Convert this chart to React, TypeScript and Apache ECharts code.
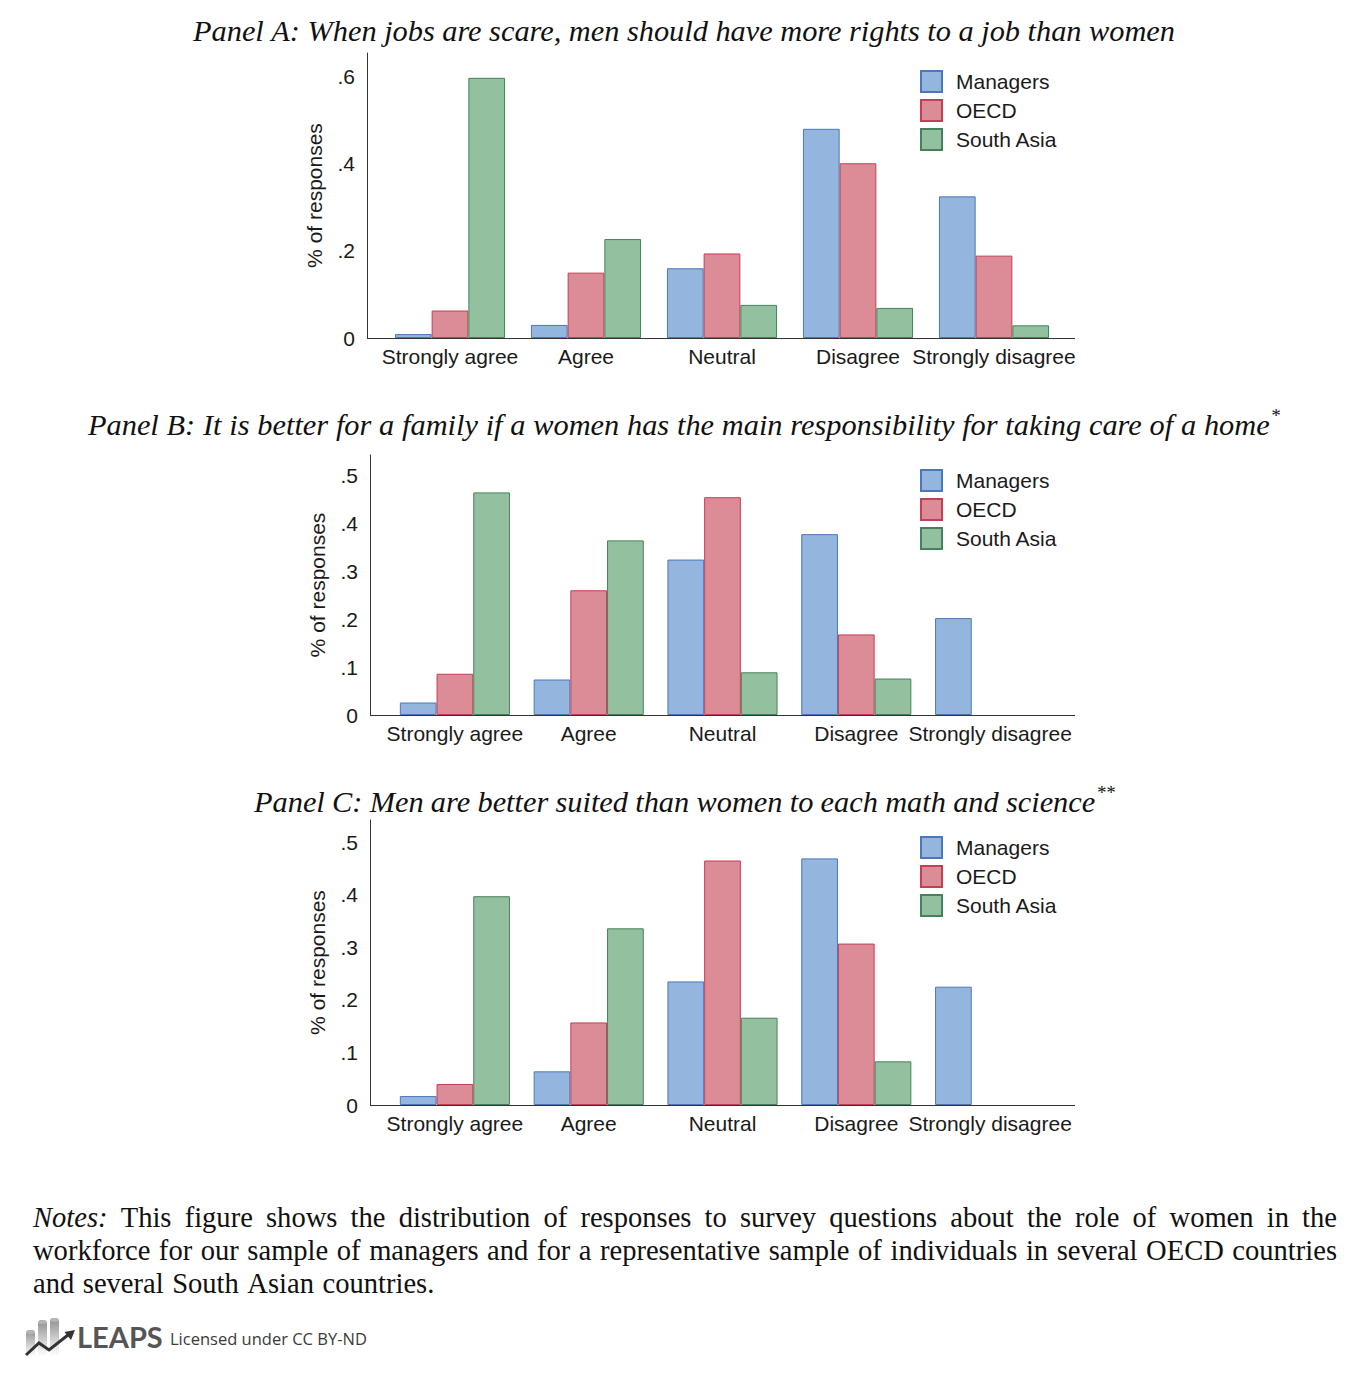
import React, { useEffect, useRef } from 'react';
import * as echarts from 'echarts';

// ---------- DATA ----------
const categories = ['Strongly agree', 'Agree', 'Neutral', 'Disagree', 'Strongly disagree'];
const seriesNames = ['Managers', 'OECD', 'South Asia'];

const panelAManagers = [0.009, 0.030, 0.160, 0.480, 0.325];
const panelAOECD = [0.063, 0.150, 0.194, 0.401, 0.189];
const panelASouthAsia = [0.597, 0.227, 0.076, 0.069, 0.029];

const panelBManagers = [0.026, 0.074, 0.324, 0.377, 0.202];
const panelBOECD = [0.086, 0.260, 0.454, 0.168, 0];
const panelBSouthAsia = [0.464, 0.364, 0.089, 0.076, 0];

const panelCManagers = [0.017, 0.064, 0.235, 0.469, 0.225];
const panelCOECD = [0.040, 0.157, 0.465, 0.307, 0];
const panelCSouthAsia = [0.397, 0.336, 0.166, 0.083, 0];

const yTickStepA = 0.2;
const yTickStepB = 0.1;
const yTickStepC = 0.1;

const yAxisTitle = '% of responses';
const titleA = 'Panel A: When jobs are scare, men should have more rights to a job than women';
const titleB = 'Panel B: It is better for a family if a women has the main responsibility for taking care of a home';
const titleBSup = '*';
const titleC = 'Panel C: Men are better suited than women to each math and science';
const titleCSup = '**';
const notesLines = [
  'This figure shows the distribution of responses to survey questions about the role of women in the',
  'workforce for our sample of managers and for a representative sample of individuals in several OECD countries',
  'and several South Asian countries.',
];
const notesLabel = 'Notes:';
const logoText = 'LEAPS';
const licenseText = 'Licensed under CC BY-ND';

// ---------- STYLE / LAYOUT ----------
const SANS = '"Liberation Sans", Arial, Helvetica, sans-serif';
const SERIF = 'Liberation Serif';
const TXT = '#1a1a1a';
const FS = 21;
const FILLS = ['#94b5dd', '#dc8c97', '#93c19f'];
const BORDERS = ['#4a78b8', '#c23f55', '#43825a'];

const panels = [
  { data: [panelAManagers, panelAOECD, panelASouthAsia], step: yTickStepA, left: 382, width: 680, top: 53, height: 285, max: 0.654, axisX: 367, legendTop: 65, title: titleA, sup: '', titleY: 31, tx0: 193, tx1: 1176 },
  { data: [panelBManagers, panelBOECD, panelBSouthAsia], step: yTickStepB, left: 388, width: 669, top: 455, height: 260, max: 0.542, axisX: 370, legendTop: 464, title: titleB, sup: titleBSup, titleY: 425, tx0: 88, tx1: 1280 },
  { data: [panelCManagers, panelCOECD, panelCSouthAsia], step: yTickStepC, left: 388, width: 669, top: 820, height: 285, max: 0.542, axisX: 370, legendTop: 831, title: titleC, sup: titleCSup, titleY: 802, tx0: 254, tx1: 1115 },
];

function tickFormatter(step: number) {
  return (v: number) => {
    const r = Math.round(v / step);
    if (Math.abs(v - r * step) > 1e-6) return '';
    if (r === 0) return '0';
    return (r * step).toFixed(1).replace(/^0\./, '.');
  };
}

export default function App() {
  const ref = useRef<HTMLDivElement>(null);

  useEffect(() => {
    document.body.style.margin = '0';
    if (!ref.current) return;
    const chart = echarts.init(ref.current, undefined, { renderer: 'svg' });

    const canvas = document.createElement('canvas');
    const ctx = canvas.getContext('2d')!;
    const measure = (t: string, size: number, italic: boolean) => {
      ctx.font = `${italic ? 'italic ' : ''}${size}px "${SERIF}"`;
      return ctx.measureText(t).width;
    };

    const graphics: any[] = [];
    const addText = (t: string, x: number, y: number, size: number, italic: boolean, extra: any = {}) => {
      graphics.push({
        type: 'text',
        x,
        y,
        z: 20,
        style: {
          text: t,
          fontSize: size,
          fontFamily: SERIF,
          fontStyle: italic ? 'italic' : 'normal',
          fill: '#111',
          textVerticalAlign: 'middle',
          textAlign: 'left',
          ...extra,
        },
      });
    };

    // Titles: common font size fitted to panel A width
    const natA = measure(titleA, 100, true);
    const titleSize = (100 * (panels[0].tx1 - panels[0].tx0)) / natA;
    panels.forEach((p) => {
      const words = p.title.split(' ');
      const supSize = titleSize * 0.62;
      const supW = p.sup ? measure(p.sup, supSize, true) : 0;
      const widths = words.map((w) => measure(w, titleSize, true));
      const sum = widths.reduce((a, b) => a + b, 0);
      const gap = (p.tx1 - p.tx0 - supW - 1 - sum) / (words.length - 1);
      let x = p.tx0;
      words.forEach((w, i) => {
        addText(w, x, p.titleY, titleSize, true);
        x += widths[i] + gap;
      });
      if (p.sup) {
        addText(p.sup, p.tx1 - supW, p.titleY - titleSize * 0.3, supSize, true);
      }
    });

    // Notes: font sized so the second line fits with comfortable spaces
    const l2words = notesLines[1].split(' ');
    const l2sum100 = l2words.reduce((a, w) => a + measure(w, 100, false), 0);
    const notesSize = 1304 / ((l2sum100 + 30 * (l2words.length - 1)) / 100);
    const notesY = [1217, 1250, 1283];
    notesLines.forEach((line, li) => {
      const words = line.split(' ').map((w) => ({ t: w, it: false }));
      if (li === 0) words.unshift({ t: notesLabel, it: true });
      const widths = words.map((w) => measure(w.t, notesSize, w.it));
      const sum = widths.reduce((a, b) => a + b, 0);
      const gap = li < 2 ? (1337 - 33 - sum) / (words.length - 1) : notesSize * 0.3;
      let x = 33;
      words.forEach((w, i) => {
        addText(w.t, x, notesY[li], notesSize, w.it);
        x += widths[i] + gap;
      });
    });

    // Baselines (x axis lines extend beyond category band)
    const baseY = [338, 715, 1105];
    panels.forEach((p, i) => {
      graphics.push({
        type: 'line',
        z: 20,
        shape: { x1: p.axisX, y1: baseY[i] + 0.5, x2: 1075, y2: baseY[i] + 0.5 },
        style: { stroke: '#333', lineWidth: 1 },
      });
    });

    // Logo
    const bars = [
      { x: 26, top: 1330 },
      { x: 38, top: 1320 },
      { x: 50, top: 1318 },
    ];
    bars.forEach((b) => {
      graphics.push({
        type: 'rect',
        z: 20,
        shape: { x: b.x, y: b.top, width: 9, height: 1356 - b.top, r: [4, 4, 0, 0] },
        style: {
          fill: {
            type: 'linear', x: 0, y: 0, x2: 0, y2: 1,
            colorStops: [
              { offset: 0, color: '#8e8e8e' },
              { offset: 0.6, color: '#d4d4d4' },
              { offset: 1, color: '#ffffff' },
            ],
          },
        },
      });
      graphics.push({
        type: 'ellipse',
        z: 21,
        shape: { cx: b.x + 4.5, cy: b.top + 2, rx: 4.5, ry: 2 },
        style: { fill: '#b5b5b5' },
      });
    });
    graphics.push({
      type: 'polyline',
      z: 22,
      shape: { points: [[26, 1355], [39, 1343], [49, 1350], [68, 1335]] },
      style: { stroke: '#333', lineWidth: 3, fill: null, lineJoin: 'miter' },
    });
    graphics.push({
      type: 'polygon',
      z: 22,
      shape: { points: [[75, 1330], [71, 1340], [64.5, 1332]] },
      style: { fill: '#333' },
    });
    graphics.push({
      type: 'text',
      x: 77,
      y: 1336,
      z: 22,
      style: { text: logoText, fontSize: 29, fontWeight: 'bold', fontFamily: 'Lato', fill: '#555', textVerticalAlign: 'middle' },
    });
    graphics.push({
      type: 'text',
      x: 170,
      y: 1338,
      z: 22,
      style: { text: licenseText, fontSize: 16.5, fontFamily: '"Open Sans"', fill: '#3a3a3a', textVerticalAlign: 'middle' },
    });

    const series: any[] = [];
    panels.forEach((p, i) => {
      p.data.forEach((d, j) => {
        series.push({
          type: 'bar',
          name: seriesNames[j],
          xAxisIndex: i,
          yAxisIndex: i,
          data: d.map((v) => (v === 0 ? { value: v, itemStyle: { borderWidth: 0, opacity: 0 } } : v)),
          barWidth: 36.7,
          barGap: '0%',
          itemStyle: { color: FILLS[j], borderColor: BORDERS[j], borderWidth: 1 },
          emphasis: { disabled: true },
          silent: true,
        });
      });
    });

    const option: any = {
      animation: false,
      backgroundColor: '#ffffff',
      textStyle: { fontFamily: SANS },
      grid: panels.map((p) => ({ left: p.left, top: p.top, width: p.width, height: p.height, containLabel: false })),
      xAxis: panels.map((p, i) => ({
        type: 'category',
        gridIndex: i,
        data: categories,
        axisLine: { show: false },
        axisTick: { show: false },
        splitLine: { show: false },
        axisLabel: { interval: 0, hideOverlap: false, fontSize: FS, color: TXT, margin: 8, fontFamily: SANS },
      })),
      yAxis: panels.map((p, i) => ({
        type: 'value',
        gridIndex: i,
        min: 0,
        max: p.max,
        interval: p.step,
        offset: p.left - p.axisX,
        axisLine: { show: true, lineStyle: { color: '#333', width: 1 } },
        axisTick: { show: false },
        splitLine: { show: false },
        axisLabel: { formatter: tickFormatter(p.step), fontSize: FS, color: TXT, margin: 12, fontFamily: SANS, showMaxLabel: false },
        name: yAxisTitle,
        nameLocation: 'middle',
        nameGap: 42,
        nameTextStyle: { fontSize: FS, color: TXT, fontFamily: SANS },
      })),
      legend: panels.map((p) => ({
        orient: 'vertical',
        left: 915,
        top: p.legendTop,
        itemWidth: 21,
        itemHeight: 21,
        itemGap: 6,
        icon: 'rect',
        selectedMode: false,
        data: seriesNames,
        textStyle: { fontSize: FS, color: TXT, fontFamily: SANS, padding: [0, 0, 0, 9] },
      })),
      series,
      graphic: graphics,
    };

    chart.setOption(option);
    return () => {
      chart.dispose();
    };
  }, []);

  return <div ref={ref} style={{ width: 1358, height: 1375 }} />;
}
